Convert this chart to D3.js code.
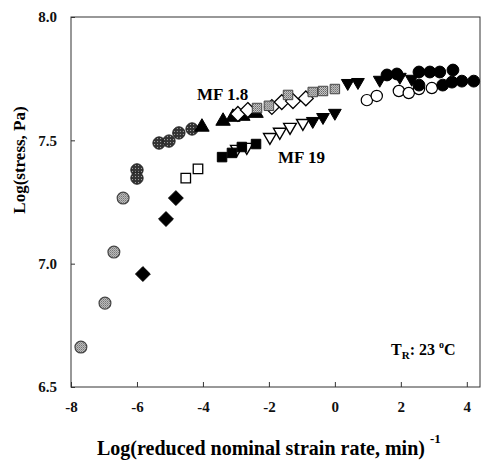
<!DOCTYPE html>
<html>
<head>
<meta charset="utf-8">
<script src="https://cdn.jsdelivr.net/npm/d3@7"></script>
<style>
body { margin: 0; background: #fff; }
text { font-family: "Liberation Serif", "DejaVu Serif", serif; font-weight: bold; }
</style>
</head>
<body>
<svg width="481" height="464"></svg>
<script>
// MF 1.8 series
var grayCircX = [-7.70, -6.97, -6.70, -6.42];
var grayCircY = [6.662, 6.84, 7.047, 7.266];
var darkHexX = [-6.0, -6.0, -5.33, -5.03, -4.73, -4.33];
var darkHexY = [7.38, 7.347, 7.489, 7.497, 7.53, 7.546];
var triUpX = [-4.03, -3.39, -3.09, -2.79, -2.39];
var triUpY = [7.554, 7.578, 7.594, 7.598, 7.61];
var openDiaX = [-2.94, -2.64, -1.91, -1.61, -1.27, -0.88];
var openDiaY = [7.607, 7.623, 7.635, 7.655, 7.659, 7.67];
var graySqX = [-2.36, -2.0, -1.42, -0.67, -0.36, 0.0];
var graySqY = [7.631, 7.64, 7.684, 7.696, 7.70, 7.708];
var triDownUpX = [0.39, 0.70, 1.36, 1.97, 2.33];
var triDownUpY = [7.732, 7.736, 7.745, 7.757, 7.749];
var openCircX = [0.97, 1.27, 1.94, 2.24, 2.55, 2.94];
var openCircY = [7.663, 7.68, 7.70, 7.692, 7.708, 7.712];
var fillCircX = [1.58, 1.88, 2.55, 2.88, 3.18, 3.58, 2.55, 3.27, 3.55, 3.85, 4.21];
var fillCircY = [7.765, 7.769, 7.777, 7.777, 7.777, 7.785, 7.724, 7.724, 7.736, 7.74, 7.74];

// MF 19 series
var diaX = [-5.82, -5.12, -4.82];
var diaY = [6.958, 7.181, 7.266];
var openSqX = [-4.52, -4.15];
var openSqY = [7.347, 7.384];
var openTriDownX = [-2.97, -2.67, -1.97, -1.67, -1.36, -0.97];
var openTriDownY = [7.465, 7.473, 7.513, 7.534, 7.554, 7.57];
var blackSqX = [-3.42, -3.12, -2.82, -2.39];
var blackSqY = [7.432, 7.449, 7.473, 7.485];
var triDownLowX = [-0.67, -0.36, 0.0];
var triDownLowY = [7.578, 7.594, 7.611];

var xTicks = [-8, -6, -4, -2, 0, 2, 4];
var yTicks = [6.5, 7.0, 7.5, 8.0];

var svg = d3.select("svg");
var x = d3.scaleLinear().domain([-8, 4.4]).range([71, 480]);
var y = d3.scaleLinear().domain([6.5, 8.0]).range([387, 17]);

var defs = svg.append("defs");
var p1 = defs.append("pattern").attr("id", "darkdots")
    .attr("width", 3).attr("height", 3).attr("patternUnits", "userSpaceOnUse");
p1.append("rect").attr("width", 3).attr("height", 3).attr("fill", "#333");
p1.append("rect").attr("x", 1).attr("y", 1).attr("width", 1).attr("height", 1).attr("fill", "#aaa");
var p2 = defs.append("pattern").attr("id", "graydots")
    .attr("width", 2).attr("height", 2).attr("patternUnits", "userSpaceOnUse");
p2.append("rect").attr("width", 2).attr("height", 2).attr("fill", "#c8c8c8");
p2.append("rect").attr("width", 1).attr("height", 1).attr("fill", "#666");
p2.append("rect").attr("x", 1).attr("y", 1).attr("width", 1).attr("height", 1).attr("fill", "#888");

// frame
svg.append("rect")
    .attr("x", x(-8)).attr("y", y(8))
    .attr("width", x(4.4) - x(-8)).attr("height", y(6.5) - y(8))
    .attr("fill", "none").attr("stroke", "#333").attr("stroke-width", 1);

// ticks
svg.append("g").attr("transform", "translate(0," + y(6.5) + ")")
    .call(d3.axisBottom(x).tickValues(xTicks).tickSize(-5).tickFormat(function (d) { return d; }))
    .call(function (g) {
        g.select(".domain").remove();
        g.selectAll("line").attr("stroke", "#333");
        g.selectAll("text").attr("dy", "1.45em").style("font-size", "15px").attr("fill", "#111")
            .text(function (d) { return d < 0 ? "-" + Math.abs(d) : d; });
    });

svg.append("g").attr("transform", "translate(" + x(-8) + ",0)")
    .call(d3.axisLeft(y).tickValues(yTicks).tickSize(-4).tickFormat(d3.format(".1f")))
    .call(function (g) {
        g.select(".domain").remove();
        g.selectAll("line").attr("stroke", "#333");
        g.selectAll("text").attr("x", -14).style("font-size", "15px").attr("fill", "#111");
    });

function pts(xs, ys) {
    return xs.map(function (v, i) { return [v, ys[i]]; });
}

function plot(data, type, size, fill, stroke, sw) {
    svg.append("g").selectAll("path")
        .data(data)
        .enter().append("path")
        .attr("transform", function (d) { return "translate(" + x(d[0]) + "," + y(d[1]) + ")"; })
        .attr("d", d3.symbol().type(type).size(size))
        .attr("fill", fill)
        .attr("stroke", stroke)
        .attr("stroke-width", sw || 1);
}

var triDown = {
    draw: function (context, size) {
        var s = Math.sqrt(size / 0.433) / 2;
        var h = s * 0.866;
        context.moveTo(-s, -h * 0.66);
        context.lineTo(s, -h * 0.66);
        context.lineTo(0, h * 1.33);
        context.closePath();
    }
};
var diamond = {
    draw: function (context, size) {
        var r = Math.sqrt(size / 2);
        context.moveTo(0, -r);
        context.lineTo(r, 0);
        context.lineTo(0, r);
        context.lineTo(-r, 0);
        context.closePath();
    }
};

plot(pts(grayCircX, grayCircY), d3.symbolCircle, 110, "url(#graydots)", "#444", 1.2);
plot(pts(darkHexX, darkHexY), d3.symbolCircle, 120, "url(#darkdots)", "#222", 1);
plot(pts(diaX, diaY), diamond, 110, "#000", "#000");
plot(pts(openSqX, openSqY), d3.symbolSquare, 90, "#fff", "#000", 1.3);
plot(pts(openTriDownX, openTriDownY), triDown, 70, "#fff", "#000", 1.4);
plot(pts(blackSqX, blackSqY), d3.symbolSquare, 90, "#000", "#000");
plot(pts(triDownLowX, triDownLowY), triDown, 70, "#000", "#000");
plot(pts(triUpX, triUpY), d3.symbolTriangle, 90, "#000", "#000");
plot(pts(openDiaX, openDiaY), diamond, 110, "#fff", "#000", 1.3);
plot(pts(graySqX, graySqY), d3.symbolSquare, 90, "url(#graydots)", "#444", 1);
plot(pts(openCircX, openCircY), d3.symbolCircle, 100, "#fff", "#000", 1.2);
plot(pts(triDownUpX, triDownUpY), triDown, 70, "#000", "#000");
plot(pts(fillCircX, fillCircY), d3.symbolCircle, 110, "#000", "#000");

// labels
svg.append("text").attr("x", 197).attr("y", 100).style("font-size", "17px").text("MF 1.8");
svg.append("text").attr("x", 278).attr("y", 163).style("font-size", "17px").text("MF 19");

var tr = svg.append("text").attr("x", 391).attr("y", 355).style("font-size", "16px");
tr.append("tspan").text("T");
tr.append("tspan").attr("dy", 4).style("font-size", "11px").text("R");
tr.append("tspan").attr("dy", -4).text(": 23 ");
tr.append("tspan").attr("dy", -7).style("font-size", "10px").text("o");
tr.append("tspan").attr("dy", 7).text("C");

svg.append("text")
    .attr("transform", "translate(25,160) rotate(-90)")
    .attr("text-anchor", "middle")
    .style("font-size", "17px")
    .text("Log(stress, Pa)");

var xt = svg.append("text").attr("x", 97).attr("y", 455).style("font-size", "20px");
xt.append("tspan").text("Log(reduced nominal strain rate, min)");
xt.append("tspan").attr("dx", 5).attr("dy", -12).style("font-size", "13px").text("-1");
</script>
</body>
</html>
